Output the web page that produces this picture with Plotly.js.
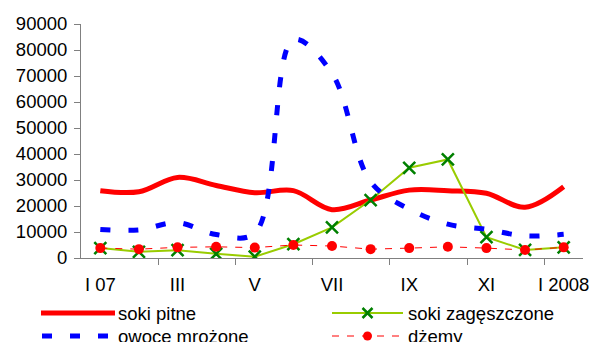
<!DOCTYPE html>
<html>
<head>
<meta charset="utf-8">
<script src="https://cdn.plot.ly/plotly-3.0.1.min.js"></script>
<style>html,body{margin:0;padding:0;background:#fff;}#chart{width:591px;height:342px;}</style>
</head>
<body>
<div id="chart"></div>
<script>
const months = ["I 07","II","III","IV","V","VI","VII","VIII","IX","X","XI","XII","I 2008"];
const tickLabels = ["I 07","III","V","VII","IX","XI","I 2008"];
const sokiPitne = [25900, 25500, 31000, 27900, 25100, 25900, 18600, 22300, 26100, 25900, 24900, 19500, 27400];
const sokiZageszczone = [3800, 2400, 3000, 1600, 500, 5300, 11800, 22300, 34700, 37900, 8000, 3100, 4100];
const owoceMrozone = [11000, 10800, 13600, 9000, 9500, 84000, 71000, 29300, 18800, 13000, 11000, 8500, 9100];
const dzemy = [3800, 3400, 4100, 4300, 4000, 5000, 4600, 3400, 3800, 4300, 3800, 3100, 4100];
const seriesNames = ["soki pitne", "soki zagęszczone", "owoce mrożone", "dżemy"];

const idx = months.map((m, i) => i);
const tickIdx = months.map((m, i) => i).filter(i => i % 2 === 0);
const boundaryIdx = months.map((m, i) => i - 0.5).filter((v, i) => i % 2 === 0 && i > 0);

const FONT = "Liberation Sans, Arial, sans-serif";
const FS = 18.5;

const traces = [
  {x: idx, y: sokiPitne, name: seriesNames[0], type: "scatter", mode: "lines",
   line: {color: "#FF0000", width: 5, shape: "spline", smoothing: 1}},
  {x: idx, y: sokiZageszczone, name: seriesNames[1], type: "scatter", mode: "lines+markers",
   line: {color: "#99CC00", width: 2},
   marker: {symbol: "x-thin", size: 12, line: {color: "#008000", width: 2.5}}},
  {x: idx, y: owoceMrozone, name: seriesNames[2], type: "scatter", mode: "lines",
   line: {color: "#0000FF", width: 5, dash: "10px,18px", shape: "spline", smoothing: 1}},
  {x: idx, y: dzemy, name: seriesNames[3], type: "scatter", mode: "lines+markers",
   line: {color: "#FF0000", width: 1, dash: "7px,8px"},
   marker: {symbol: "circle", size: 10, color: "#FF0000"}}
];

// manual legend (pixel -> paper helpers)
const L = 81, R = 583, T = 24, B = 258;
const fx = px => (px - L) / (R - L);
const fy = py => (B - py) / (B - T);
const row1 = 313, row2 = 336;
const shapes = [
  {type: "line", xref: "paper", yref: "paper", x0: fx(41), x1: fx(115), y0: fy(row1), y1: fy(row1),
   line: {color: "#FF0000", width: 5}},
  {type: "line", xref: "paper", yref: "paper", x0: fx(42), x1: fx(108), y0: fy(row2), y1: fy(row2),
   line: {color: "#0000FF", width: 5, dash: "10px,18px"}},
  {type: "line", xref: "paper", yref: "paper", x0: fx(332), x1: fx(403), y0: fy(row1), y1: fy(row1),
   line: {color: "#99CC00", width: 2}},
  {type: "path", xref: "paper", yref: "paper", xsizemode: "pixel", ysizemode: "pixel",
   xanchor: fx(367.5), yanchor: fy(row1), path: "M-5,-5L5,5M-5,5L5,-5",
   line: {color: "#008000", width: 2.5}},
  {type: "line", xref: "paper", yref: "paper", x0: fx(332), x1: fx(403), y0: fy(row2), y1: fy(row2),
   line: {color: "#FF0000", width: 1, dash: "7px,8px"}},
  {type: "circle", xref: "paper", yref: "paper", xsizemode: "pixel", ysizemode: "pixel",
   xanchor: fx(367.5), yanchor: fy(row2), x0: -4.5, x1: 4.5, y0: -4.5, y1: 4.5,
   fillcolor: "#FF0000", line: {color: "#FF0000", width: 0}}
];
const annotations = [
  {text: seriesNames[0], px: 117, py: row1},
  {text: seriesNames[2], px: 117, py: row2},
  {text: seriesNames[1], px: 407, py: row1},
  {text: seriesNames[3], px: 407, py: row2}
].map(a => ({text: a.text, xref: "paper", yref: "paper", x: fx(a.px), y: fy(a.py),
  xanchor: "left", yanchor: "middle", showarrow: false, borderpad: 0,
  font: {family: FONT, size: FS, color: "#000"}}));

const layout = {
  width: 591, height: 342,
  margin: {l: L, r: 591 - R, t: T, b: 342 - B},
  paper_bgcolor: "#fff", plot_bgcolor: "#fff",
  showlegend: false,
  font: {family: FONT, size: FS, color: "#000"},
  xaxis: {
    range: [-0.5, 12.5], tickmode: "array", tickvals: tickIdx, ticktext: tickLabels,
    ticks: "", ticklabelstandoff: 10, showgrid: false, zeroline: false, showline: true, linecolor: "#808080", linewidth: 1,
    tickfont: {family: FONT, size: FS, color: "#000"},
    minor: {tickmode: "array", tickvals: boundaryIdx, ticks: "outside", ticklen: 6, tickcolor: "#808080", tickwidth: 1, showgrid: false}
  },
  yaxis: {
    range: [0, 90000], tickmode: "linear", tick0: 0, dtick: 10000, ticks: "outside", ticklen: 6,
    ticklabelstandoff: 3,
    tickcolor: "#808080", showgrid: false, zeroline: false, showline: true, linecolor: "#808080", linewidth: 1,
    tickformat: "d", tickfont: {family: FONT, size: FS, color: "#000"}
  },
  shapes: shapes,
  annotations: annotations
};

Plotly.newPlot("chart", traces, layout, {staticPlot: true, displayModeBar: false});
</script>
</body>
</html>
